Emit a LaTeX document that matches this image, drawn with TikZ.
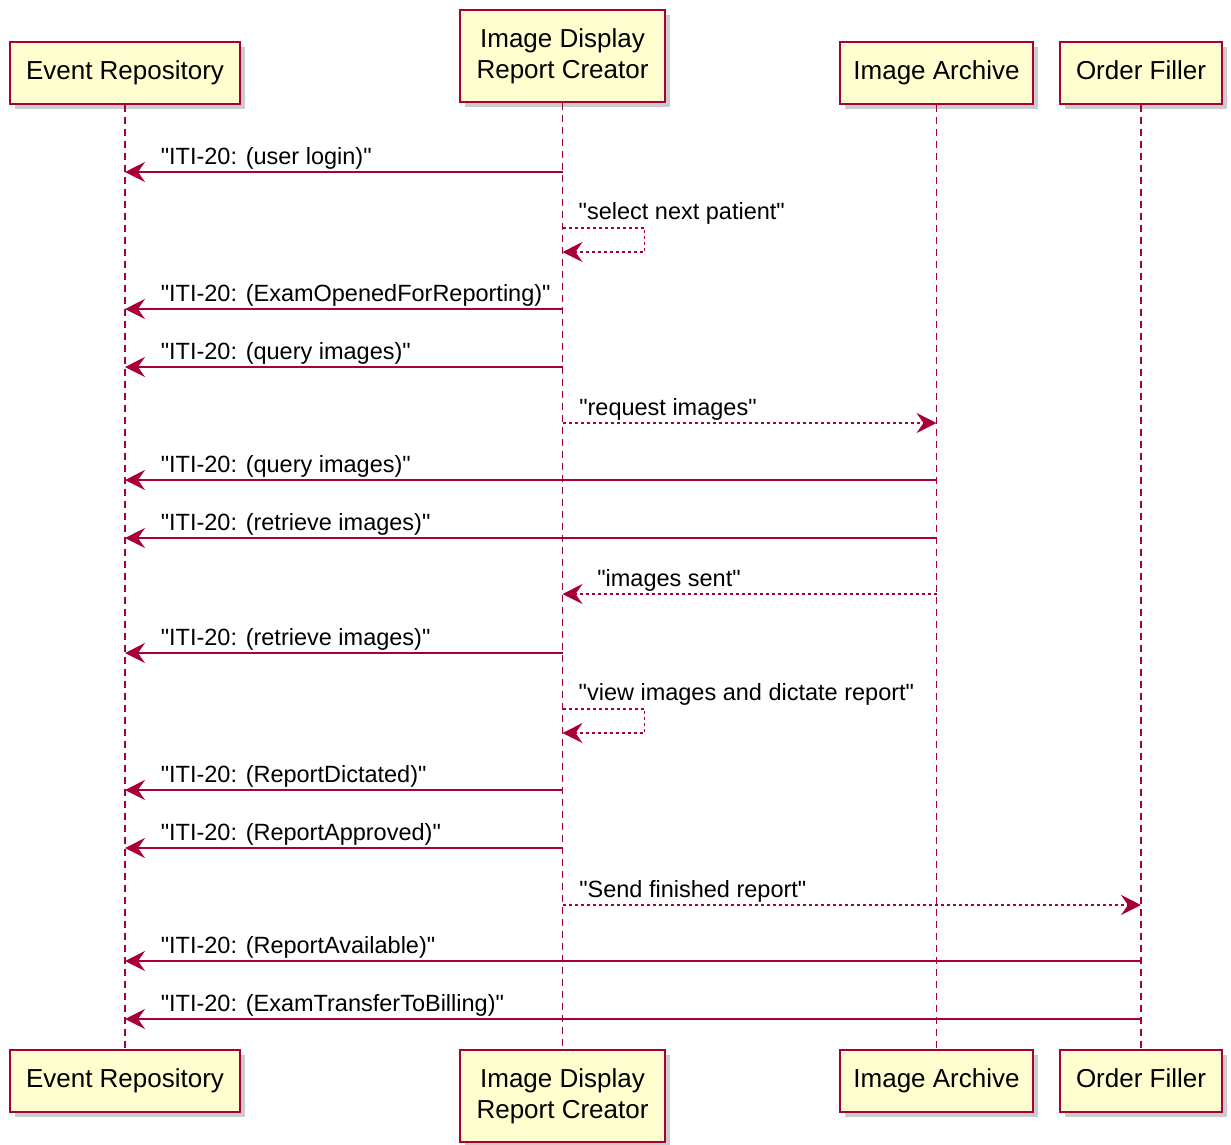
\documentclass[tikz,border=0pt]{standalone}
\usepackage{fontspec}
\setmainfont{Liberation Sans}[Ligatures=TeXOff]
\usetikzlibrary{arrows.meta, shadows, positioning}
\definecolor{umlred}{HTML}{A80036}
\definecolor{umlfill}{HTML}{FEFECE}

\begin{document}
\begin{tikzpicture}[x=1pt, y=-1pt,
    actor/.style={draw=umlred, fill=umlfill, line width=1.8pt, minimum height=62pt,
      inner sep=0pt, align=center, font=\fontsize{26}{31}\selectfont,
      drop shadow={shadow xshift=5pt, shadow yshift=-5pt, fill=black!40, opacity=0.5}},
    life/.style={umlred, line width=1.3pt, dash pattern=on 7pt off 5pt},
    msg/.style={umlred, line width=1.6pt, -{Stealth[length=20pt, width=20pt, inset=7pt]}},
    reply/.style={msg, dash pattern=on 3pt off 3pt},
    lbl/.style={anchor=base west, inner sep=0pt, text=black, font=\fontsize{23.5}{27}\selectfont}]
    \useasboundingbox (0,0) rectangle (1231,1144);

    % participants
    \node[actor, minimum width=230pt] (er) at (125,73) {Event Repository};
    \node[actor, minimum width=205pt, minimum height=92pt] (idr) at (562.5,56) {Image Display\\Report Creator};
    \node[actor, minimum width=193pt] (ia) at (936.5,73) {Image Archive};
    \node[actor, minimum width=162pt] (of) at (1141,73) {Order Filler\vphantom{y}};

    \node[actor, minimum width=230pt] (erb) at (125,1081) {Event Repository};
    \node[actor, minimum width=205pt, minimum height=92pt] (idrb) at (562.5,1096) {Image Display\\Report Creator};
    \node[actor, minimum width=193pt] (iab) at (936.5,1081) {Image Archive};
    \node[actor, minimum width=162pt] (ofb) at (1141,1081) {Order Filler\vphantom{y}};

    \draw[life] (er) -- (erb);
    \draw[life] (idr) -- (idrb);
    \draw[life] (ia) -- (iab);
    \draw[life] (of) -- (ofb);

    % message rows
    \coordinate (m1) at (0,172);
    \coordinate (s1) at (0,228); \coordinate (s1b) at (0,252);
    \coordinate (m2) at (0,309);
    \coordinate (m3) at (0,367);
    \coordinate (m4) at (0,423);
    \coordinate (m5) at (0,480);
    \coordinate (m6) at (0,538);
    \coordinate (m7) at (0,594);
    \coordinate (m8) at (0,653);
    \coordinate (s2) at (0,709); \coordinate (s2b) at (0,733);
    \coordinate (m9) at (0,790);
    \coordinate (m10) at (0,848);
    \coordinate (m11) at (0,905);
    \coordinate (m12) at (0,961);
    \coordinate (m13) at (0,1019);

    \draw[msg] (idr |- m1) -- (er |- m1)
      node[lbl, pos=1, xshift=35pt, yshift=8pt] {"ITI-20: (user login)"};
    \draw[reply] (idr |- s1) -- ++(82,0) |- (idr |- s1b);
    \node[lbl] (t1) at ([xshift=16pt, yshift=9pt]idr |- s1) {"select next patient"};
    \draw[msg] (idr |- m2) -- (er |- m2)
      node[lbl, pos=1, xshift=35pt, yshift=8pt] {"ITI-20: (ExamOpenedForReporting)"};
    \draw[msg] (idr |- m3) -- (er |- m3)
      node[lbl, pos=1, xshift=35pt, yshift=8pt] {"ITI-20: (query images)"};
    \draw[reply] (idr |- m4) -- (ia |- m4)
      node[lbl, pos=0, xshift=16pt, yshift=8pt] {"request images"};
    \draw[msg] (ia |- m5) -- (er |- m5)
      node[lbl, pos=1, xshift=35pt, yshift=8pt] {"ITI-20: (query images)"};
    \draw[msg] (ia |- m6) -- (er |- m6)
      node[lbl, pos=1, xshift=35pt, yshift=8pt] {"ITI-20: (retrieve images)"};
    \draw[reply] (ia |- m7) -- (idr |- m7)
      node[lbl, pos=1, xshift=34pt, yshift=8pt] {"images sent"};
    \draw[msg] (idr |- m8) -- (er |- m8)
      node[lbl, pos=1, xshift=35pt, yshift=8pt] {"ITI-20: (retrieve images)"};
    \draw[reply] (idr |- s2) -- ++(82,0) |- (idr |- s2b);
    \node[lbl] (t2) at ([xshift=16pt, yshift=9pt]idr |- s2) {"view images and dictate report"};
    \draw[msg] (idr |- m9) -- (er |- m9)
      node[lbl, pos=1, xshift=35pt, yshift=8pt] {"ITI-20: (ReportDictated)"};
    \draw[msg] (idr |- m10) -- (er |- m10)
      node[lbl, pos=1, xshift=35pt, yshift=8pt] {"ITI-20: (ReportApproved)"};
    \draw[reply] (idr |- m11) -- (of |- m11)
      node[lbl, pos=0, xshift=16pt, yshift=8pt] {"Send finished report"};
    \draw[msg] (of |- m12) -- (er |- m12)
      node[lbl, pos=1, xshift=35pt, yshift=8pt] {"ITI-20: (ReportAvailable)"};
    \draw[msg] (of |- m13) -- (er |- m13)
      node[lbl, pos=1, xshift=35pt, yshift=8pt] {"ITI-20: (ExamTransferToBilling)"};
\end{tikzpicture}
\end{document}
